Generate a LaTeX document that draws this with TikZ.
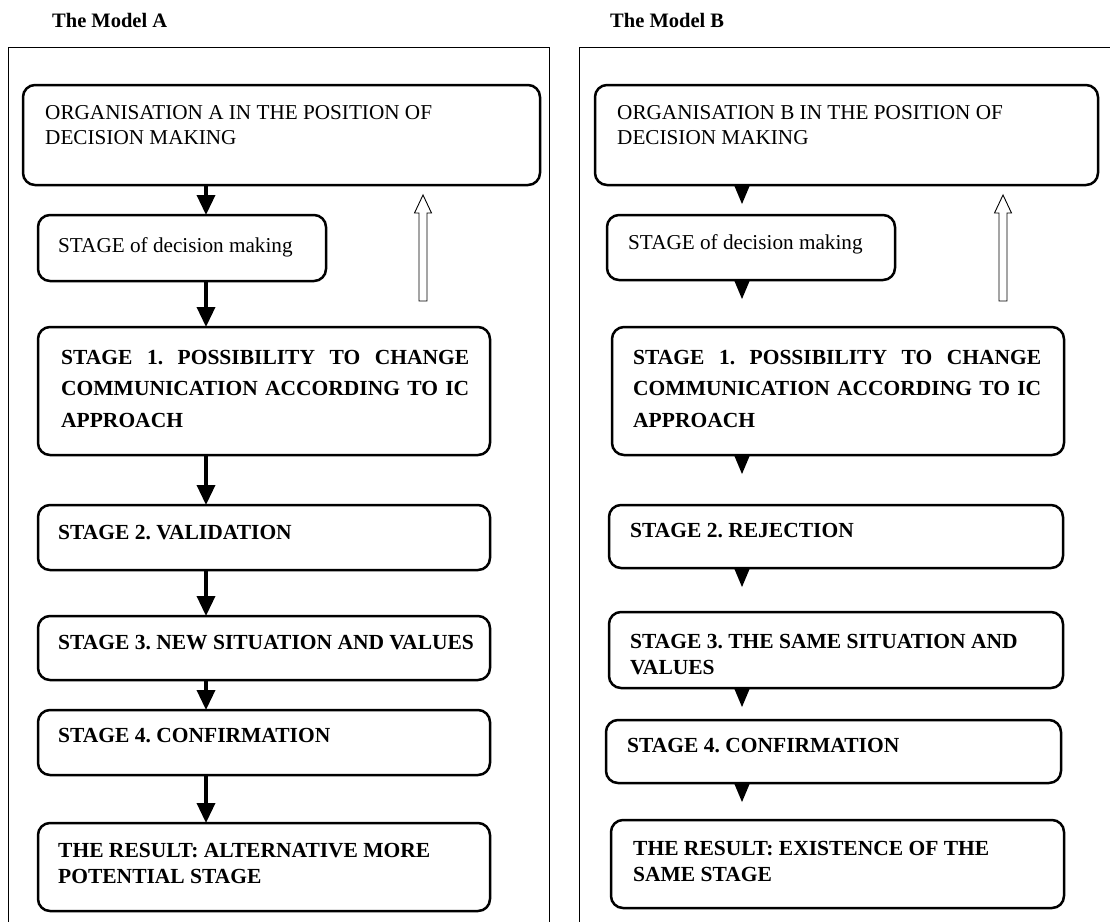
\documentclass[tikz,border=0pt]{standalone}
\usepackage{fontspec}
\setmainfont{Liberation Serif}
\usetikzlibrary{arrows.meta,positioning,calc}
\frenchspacing
\tikzset{
  frame/.style={draw, line width=1pt},
  title/.style={anchor=base west, inner sep=0pt, font=\fontsize{20.5}{25}\selectfont\bfseries},
  stagebox/.style={draw, line width=2.5pt, rounded corners=12pt, anchor=north west, inner sep=0pt, outer sep=0pt},
  boxtext/.style={inner sep=0pt, align=left, font=\fontsize{21.2}{25}\selectfont},
  boldtext/.style={boxtext, font=\fontsize{21.5}{26}\selectfont\bfseries},
  widetext/.style={boxtext, align=justify, font=\fontsize{21.5}{31.5}\selectfont\bfseries},
  flow/.style={line width=3.5pt, -{Triangle[width=18pt,length=20pt]}},
  backarrow/.pic={\draw[line width=0.9pt, fill=white] (-4,0) -- (-4,-88) -- (-8.5,-88) -- (0,-106) -- (8.5,-88) -- (4,-88) -- (4,0) -- cycle;}
}
\begin{document}
\begin{tikzpicture}[x=1pt, y=-1pt, >=Latex]
\useasboundingbox (0,0) rectangle (1110,921);
% frames and titles
\draw[frame] (8,940) |- (549,47) -- (549,940);
\draw[frame] (579,940) |- (1130,47);
\node[title] (ta) at (52,27) {The Model A};
\node[title] (tb) at (610,27) {The Model B};

% model A
\node[stagebox, minimum width=517pt, minimum height=100pt] (a0) at (23,85) {};
\node[stagebox, minimum width=288pt, minimum height=66pt] (a1) at (38,215) {};
\node[stagebox, minimum width=452pt, minimum height=128pt] (a2) at (38,327) {};
\node[stagebox, minimum width=452pt, minimum height=65pt] (a3) at (38,505) {};
\node[stagebox, minimum width=452pt, minimum height=64pt] (a4) at (38,616) {};
\node[stagebox, minimum width=452pt, minimum height=65pt] (a5) at (38,710) {};
\node[stagebox, minimum width=452pt, minimum height=88pt] (a6) at (38,823) {};
\node[boxtext, below right=20pt and 22pt of a0.north west] (a0t) {ORGANISATION A IN THE POSITION OF\\DECISION MAKING};
\node[boxtext, below right=22pt and 20pt of a1.north west] (a1t) {STAGE of decision making};
\node[widetext, text width=408pt, below right=23pt and 23pt of a2.north west] (a2t) {STAGE 1. POSSIBILITY TO CHANGE\linebreak COMMUNICATION ACCORDING TO IC\linebreak APPROACH};
\node[boldtext, below right=20pt and 20pt of a3.north west] (a3t) {STAGE 2. VALIDATION};
\node[boldtext, below right=19pt and 20pt of a4.north west] (a4t) {STAGE 3. NEW SITUATION AND VALUES};
\node[boldtext, below right=18pt and 20pt of a5.north west] (a5t) {STAGE 4. CONFIRMATION};
\node[boldtext, below right=20pt and 20pt of a6.north west] (a6t) {THE RESULT: ALTERNATIVE MORE\\POTENTIAL STAGE};
\coordinate (ax) at (206,0);
\foreach \s/\t in {a0/a1,a1/a2,a2/a3,a3/a4,a4/a5,a5/a6}
  \draw[flow] (\s.south -| ax) -- (\t.north -| ax);
\pic at (423,301) {backarrow};

% model B
\node[stagebox, minimum width=503pt, minimum height=100pt] (b0) at (595,85) {};
\node[stagebox, minimum width=288pt, minimum height=65pt] (b1) at (607,215) {};
\node[stagebox, minimum width=452pt, minimum height=128pt] (b2) at (612,327) {};
\node[stagebox, minimum width=454pt, minimum height=63pt] (b3) at (609,505) {};
\node[stagebox, minimum width=454pt, minimum height=76pt] (b4) at (609,612) {};
\node[stagebox, minimum width=455pt, minimum height=63pt] (b5) at (606,720) {};
\node[stagebox, minimum width=453pt, minimum height=88pt] (b6) at (611,820) {};
\node[boxtext, below right=20pt and 22pt of b0.north west] (b0t) {ORGANISATION B IN THE POSITION OF\\DECISION MAKING};
\node[boxtext, below right=19pt and 21pt of b1.north west] (b1t) {STAGE of decision making};
\node[widetext, text width=408pt, below right=23pt and 21pt of b2.north west] (b2t) {STAGE 1. POSSIBILITY TO CHANGE\linebreak COMMUNICATION ACCORDING TO IC\linebreak APPROACH};
\node[boldtext, below right=18pt and 21pt of b3.north west] (b3t) {STAGE 2. REJECTION};
\node[boldtext, below right=22pt and 21pt of b4.north west] (b4t) {STAGE 3. THE SAME SITUATION AND\\VALUES};
\node[boldtext, below right=18pt and 21pt of b5.north west] (b5t) {STAGE 4. CONFIRMATION};
\node[boldtext, below right=21pt and 22pt of b6.north west] (b6t) {THE RESULT: EXISTENCE OF THE\\SAME STAGE};
\coordinate (bx) at (742,0);
\foreach \s in {b0,b1,b2,b3,b4,b5}
  \fill (\s.south -| bx) ++(-8,0) -- ++(16,0) -- ++(-8,19) -- cycle;
\pic at (1003,301) {backarrow};
\end{tikzpicture}
\end{document}
